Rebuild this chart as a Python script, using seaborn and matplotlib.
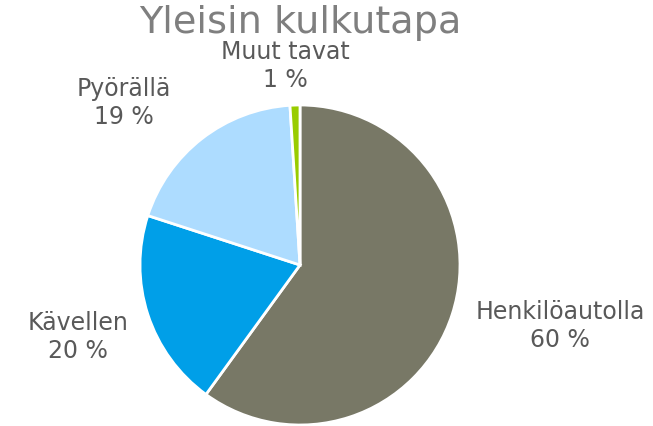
import matplotlib
matplotlib.use("Agg")
import matplotlib.pyplot as plt
import seaborn as sns
import numpy as np

# data
kulkutavat = ["Henkilöautolla", "Kävellen", "Pyörällä", "Muut tavat"]
osuudet = [60, 20, 19, 1]
varit = ["#787866", "#009FE8", "#ADDCFF", "#99CC00"]

sns.set_theme(style="white")
plt.rcParams["font.family"] = ["DejaVu Sans"]

fig = plt.figure(figsize=(6.53, 4.26), dpi=100)
W, H = 653, 426
cx, cy, r = 300, 265, 160
ax = fig.add_axes([(cx - r) / W, (H - cy - r) / H, 2 * r / W, 2 * r / H])

wedges, _ = ax.pie(osuudet, colors=varit, startangle=90, counterclock=False,
                   wedgeprops=dict(edgecolor="white", linewidth=2))
ax.set_xlim(-1, 1)
ax.set_ylim(-1, 1)
ax.set_aspect("equal")
ax.axis("off")

# label positions (fig pixels) for each slice
label_pos = [(560, 326), (78, 337), (124, 103), (285, 66)]
for name, val, (px, py) in zip(kulkutavat, osuudet, label_pos):
    fig.text(px / W, 1 - py / H, f"{name}\n{val} %", ha="center", va="center",
             fontsize=17, color="#595959", linespacing=1.22)

fig.text(cx / W, 1 - 23 / H, "Yleisin kulkutapa", ha="center", va="center",
         fontsize=27.5, color="#7F7F7F")

fig.savefig("out.png", dpi=100)
